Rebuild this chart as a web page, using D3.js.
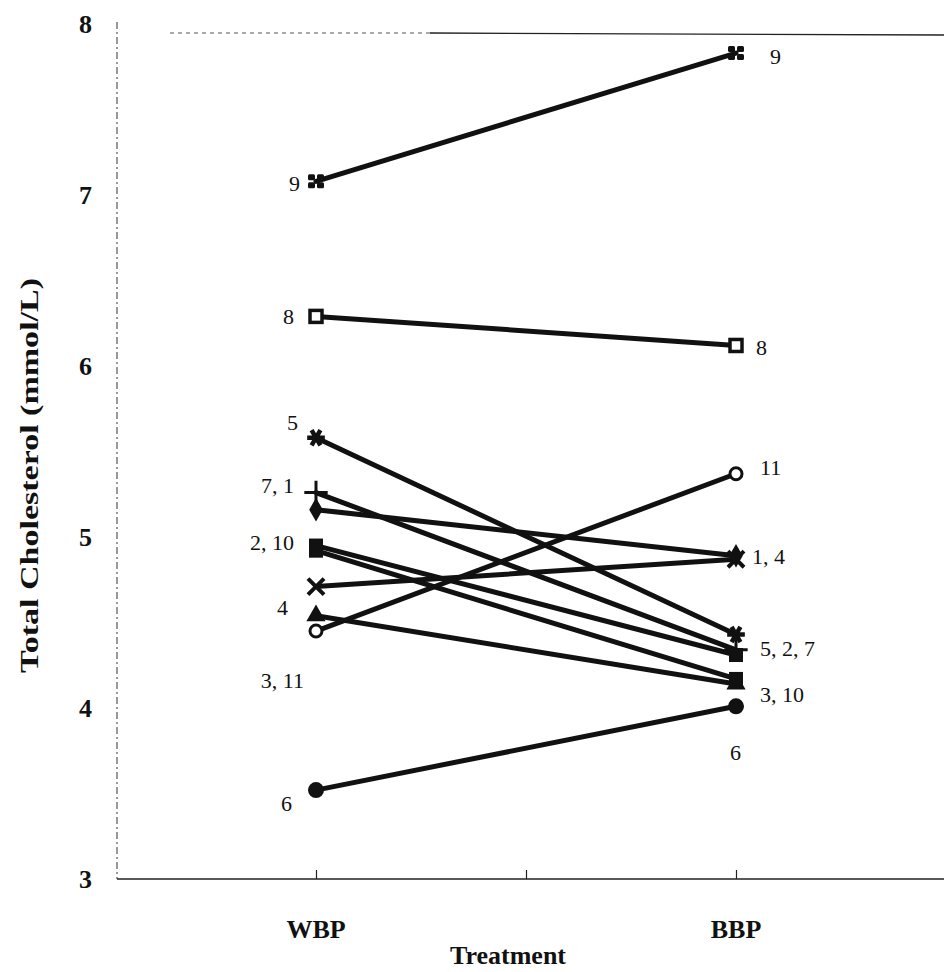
<!DOCTYPE html>
<html>
<head>
<meta charset="utf-8">
<script src="https://cdn.jsdelivr.net/npm/d3@7"></script>
<style>
  body { margin: 0; background: #fff; }
  svg text { font-family: "Liberation Serif", "Times New Roman", serif; fill: #111; }
</style>
</head>
<body>
<div id="chart"></div>
<script>
// subjects, WBP and BBP values (mmol/L)
const subjects = ["1", "2", "3", "4", "5", "6", "7", "8", "9", "10", "11"];
const wbp = [5.16, 4.95, 4.54, 4.71, 5.58, 3.52, 5.26, 6.29, 7.08, 4.92, 4.45];
const bbp = [4.89, 4.31, 4.14, 4.87, 4.43, 4.01, 4.34, 6.12, 7.83, 4.17, 5.37];
const markerTypes = ["diamond", "square", "triangle", "times", "asterisk", "circle", "plus", "openSquare", "grid", "square", "openCircle"];

const treatments = ["WBP", "BBP"];
const xTickValues = [1, 2, 3];
const xTickLabels = ["WBP", "", "BBP"];
const yTicks = [3, 4, 5, 6, 7, 8];

// point labels: text and the value they sit beside
const leftLabels = ["9", "8", "5", "7, 1", "2, 10", "4", "3, 11", "6"];
const leftLabelVals = [7.07, 6.29, 5.67, 5.30, 4.97, 4.59, 4.16, 3.44];
const rightLabels = ["9", "8", "11", "1, 4", "5, 2, 7", "3, 10", "6"];
const rightLabelVals = [7.81, 6.11, 5.41, 4.89, 4.35, 4.08, 3.74];

// layout
const W = 944, H = 972;
const leftEdge = [-16, -22, -18, -22, -22, -28, -12, -24];
const rightStart = [34, 20, 24, 16, 24, 24, -6];

const svg = d3.select("#chart").append("svg")
    .attr("width", W)
    .attr("height", H);

const x = d3.scaleLinear().domain([1, 3]).range([316, 736]);
const y = d3.scaleLinear().domain([3, 8]).range([879, 24]);

// frame
svg.append("line")
    .attr("x1", 117).attr("x2", 117)
    .attr("y1", 22).attr("y2", 879)
    .attr("stroke", "#333").attr("stroke-width", 1)
    .attr("stroke-dasharray", "7,3,2,3");
svg.append("line")
    .attr("x1", 170).attr("x2", 430)
    .attr("y1", 33).attr("y2", 33)
    .attr("stroke", "#555").attr("stroke-width", 1)
    .attr("stroke-dasharray", "4,4");
svg.append("line")
    .attr("x1", 430).attr("x2", W)
    .attr("y1", 33).attr("y2", 35)
    .attr("stroke", "#222").attr("stroke-width", 1.3);

// x axis
const xAxis = d3.axisBottom(x)
    .tickValues(xTickValues)
    .tickSize(-9)
    .tickFormat("");
const gx = svg.append("g")
    .attr("transform", `translate(0,${y(3)})`)
    .call(xAxis);
gx.select(".domain").attr("d", `M117,0H${W}`).attr("stroke", "#222").attr("stroke-width", 1.4);
gx.selectAll(".tick line").attr("stroke", "#222").attr("stroke-width", 1.2);

svg.selectAll(".xlab")
    .data(xTickValues.filter((d, i) => xTickLabels[i] !== ""))
    .enter().append("text")
    .attr("class", "xlab")
    .attr("x", d => x(d))
    .attr("y", 938)
    .attr("text-anchor", "middle")
    .style("font-size", "26px")
    .style("font-weight", "bold")
    .text((d, i) => treatments[i]);

svg.append("text")
    .attr("x", 508)
    .attr("y", 964)
    .attr("text-anchor", "middle")
    .style("font-size", "26px")
    .style("font-weight", "bold")
    .text("Treatment");

// y axis labels
const yAxis = d3.axisLeft(y).tickValues(yTicks).tickSize(0).tickPadding(0).tickFormat(d3.format("d"));
const gy = svg.append("g")
    .attr("transform", "translate(92,0)")
    .call(yAxis);
gy.select(".domain").remove();
gy.selectAll(".tick text")
    .style("font-size", "26px")
    .style("font-weight", "bold")
    .style("font-family", "'Liberation Serif', serif")
    .attr("fill", "#111");

svg.append("text")
    .attr("transform", `translate(38,${y(5.36)}) rotate(-90)`)
    .attr("text-anchor", "middle")
    .attr("textLength", 395)
    .attr("lengthAdjust", "spacingAndGlyphs")
    .style("font-size", "25px")
    .style("font-weight", "bold")
    .text("Total Cholesterol (mmol/L)");

// lines
svg.selectAll(".pair")
    .data(subjects)
    .enter().append("line")
    .attr("class", "pair")
    .attr("x1", x(1)).attr("x2", x(3))
    .attr("y1", (d, i) => y(wbp[i]))
    .attr("y2", (d, i) => y(bbp[i]))
    .attr("stroke", "#111")
    .attr("stroke-width", 5)
    .attr("stroke-linecap", "round");

// markers
function drawMarker(g, type) {
  const s = 7;
  if (type === "diamond") {
    g.append("path").attr("d", d3.symbol(d3.symbolDiamond, 160)).attr("fill", "#111");
  } else if (type === "square") {
    g.append("rect").attr("x", -s).attr("y", -s).attr("width", 2 * s).attr("height", 2 * s).attr("fill", "#111");
  } else if (type === "triangle") {
    g.append("path").attr("d", d3.symbol(d3.symbolTriangle, 160)).attr("fill", "#111");
  } else if (type === "circle") {
    g.append("circle").attr("r", 8).attr("fill", "#111");
  } else if (type === "openCircle") {
    g.append("circle").attr("r", 6).attr("fill", "#fff").attr("stroke", "#111").attr("stroke-width", 3);
  } else if (type === "openSquare") {
    g.append("rect").attr("x", -6).attr("y", -6).attr("width", 12).attr("height", 12)
      .attr("fill", "#fff").attr("stroke", "#111").attr("stroke-width", 3.5);
  } else if (type === "times") {
    g.append("path").attr("d", d3.symbol(d3.symbolTimes, 170)).attr("fill", "none").attr("stroke", "#111").attr("stroke-width", 4);
  } else if (type === "plus") {
    g.append("path").attr("d", d3.symbol(d3.symbolPlus, 180)).attr("fill", "none").attr("stroke", "#111").attr("stroke-width", 3);
  } else if (type === "asterisk") {
    g.append("path").attr("d", d3.symbol(d3.symbolAsterisk, 220)).attr("transform", "rotate(90)")
      .attr("fill", "none").attr("stroke", "#111").attr("stroke-width", 4.5);
  } else if (type === "grid") {
    [[-8, -7], [1, -7], [-8, 1], [1, 1]].forEach(p => {
      g.append("rect").attr("x", p[0]).attr("y", p[1]).attr("width", 7).attr("height", 6).attr("rx", 1.5).attr("fill", "#111");
    });
  }
}

subjects.forEach((s, i) => {
  [[1, wbp[i]], [3, bbp[i]]].forEach(p => {
    const g = svg.append("g").attr("transform", `translate(${x(p[0])},${y(p[1])})`);
    drawMarker(g, markerTypes[i]);
  });
});

// point labels
svg.selectAll(".llab")
    .data(leftLabels)
    .enter().append("text")
    .attr("class", "llab")
    .attr("x", (d, i) => x(1) + leftEdge[i])
    .attr("y", (d, i) => y(leftLabelVals[i]))
    .attr("dy", "0.35em")
    .attr("text-anchor", "end")
    .style("font-size", "22px")
    .text(d => d);

svg.selectAll(".rlab")
    .data(rightLabels)
    .enter().append("text")
    .attr("class", "rlab")
    .attr("x", (d, i) => x(3) + rightStart[i])
    .attr("y", (d, i) => y(rightLabelVals[i]))
    .attr("dy", "0.35em")
    .attr("text-anchor", "start")
    .style("font-size", "22px")
    .text(d => d);
</script>
</body>
</html>
